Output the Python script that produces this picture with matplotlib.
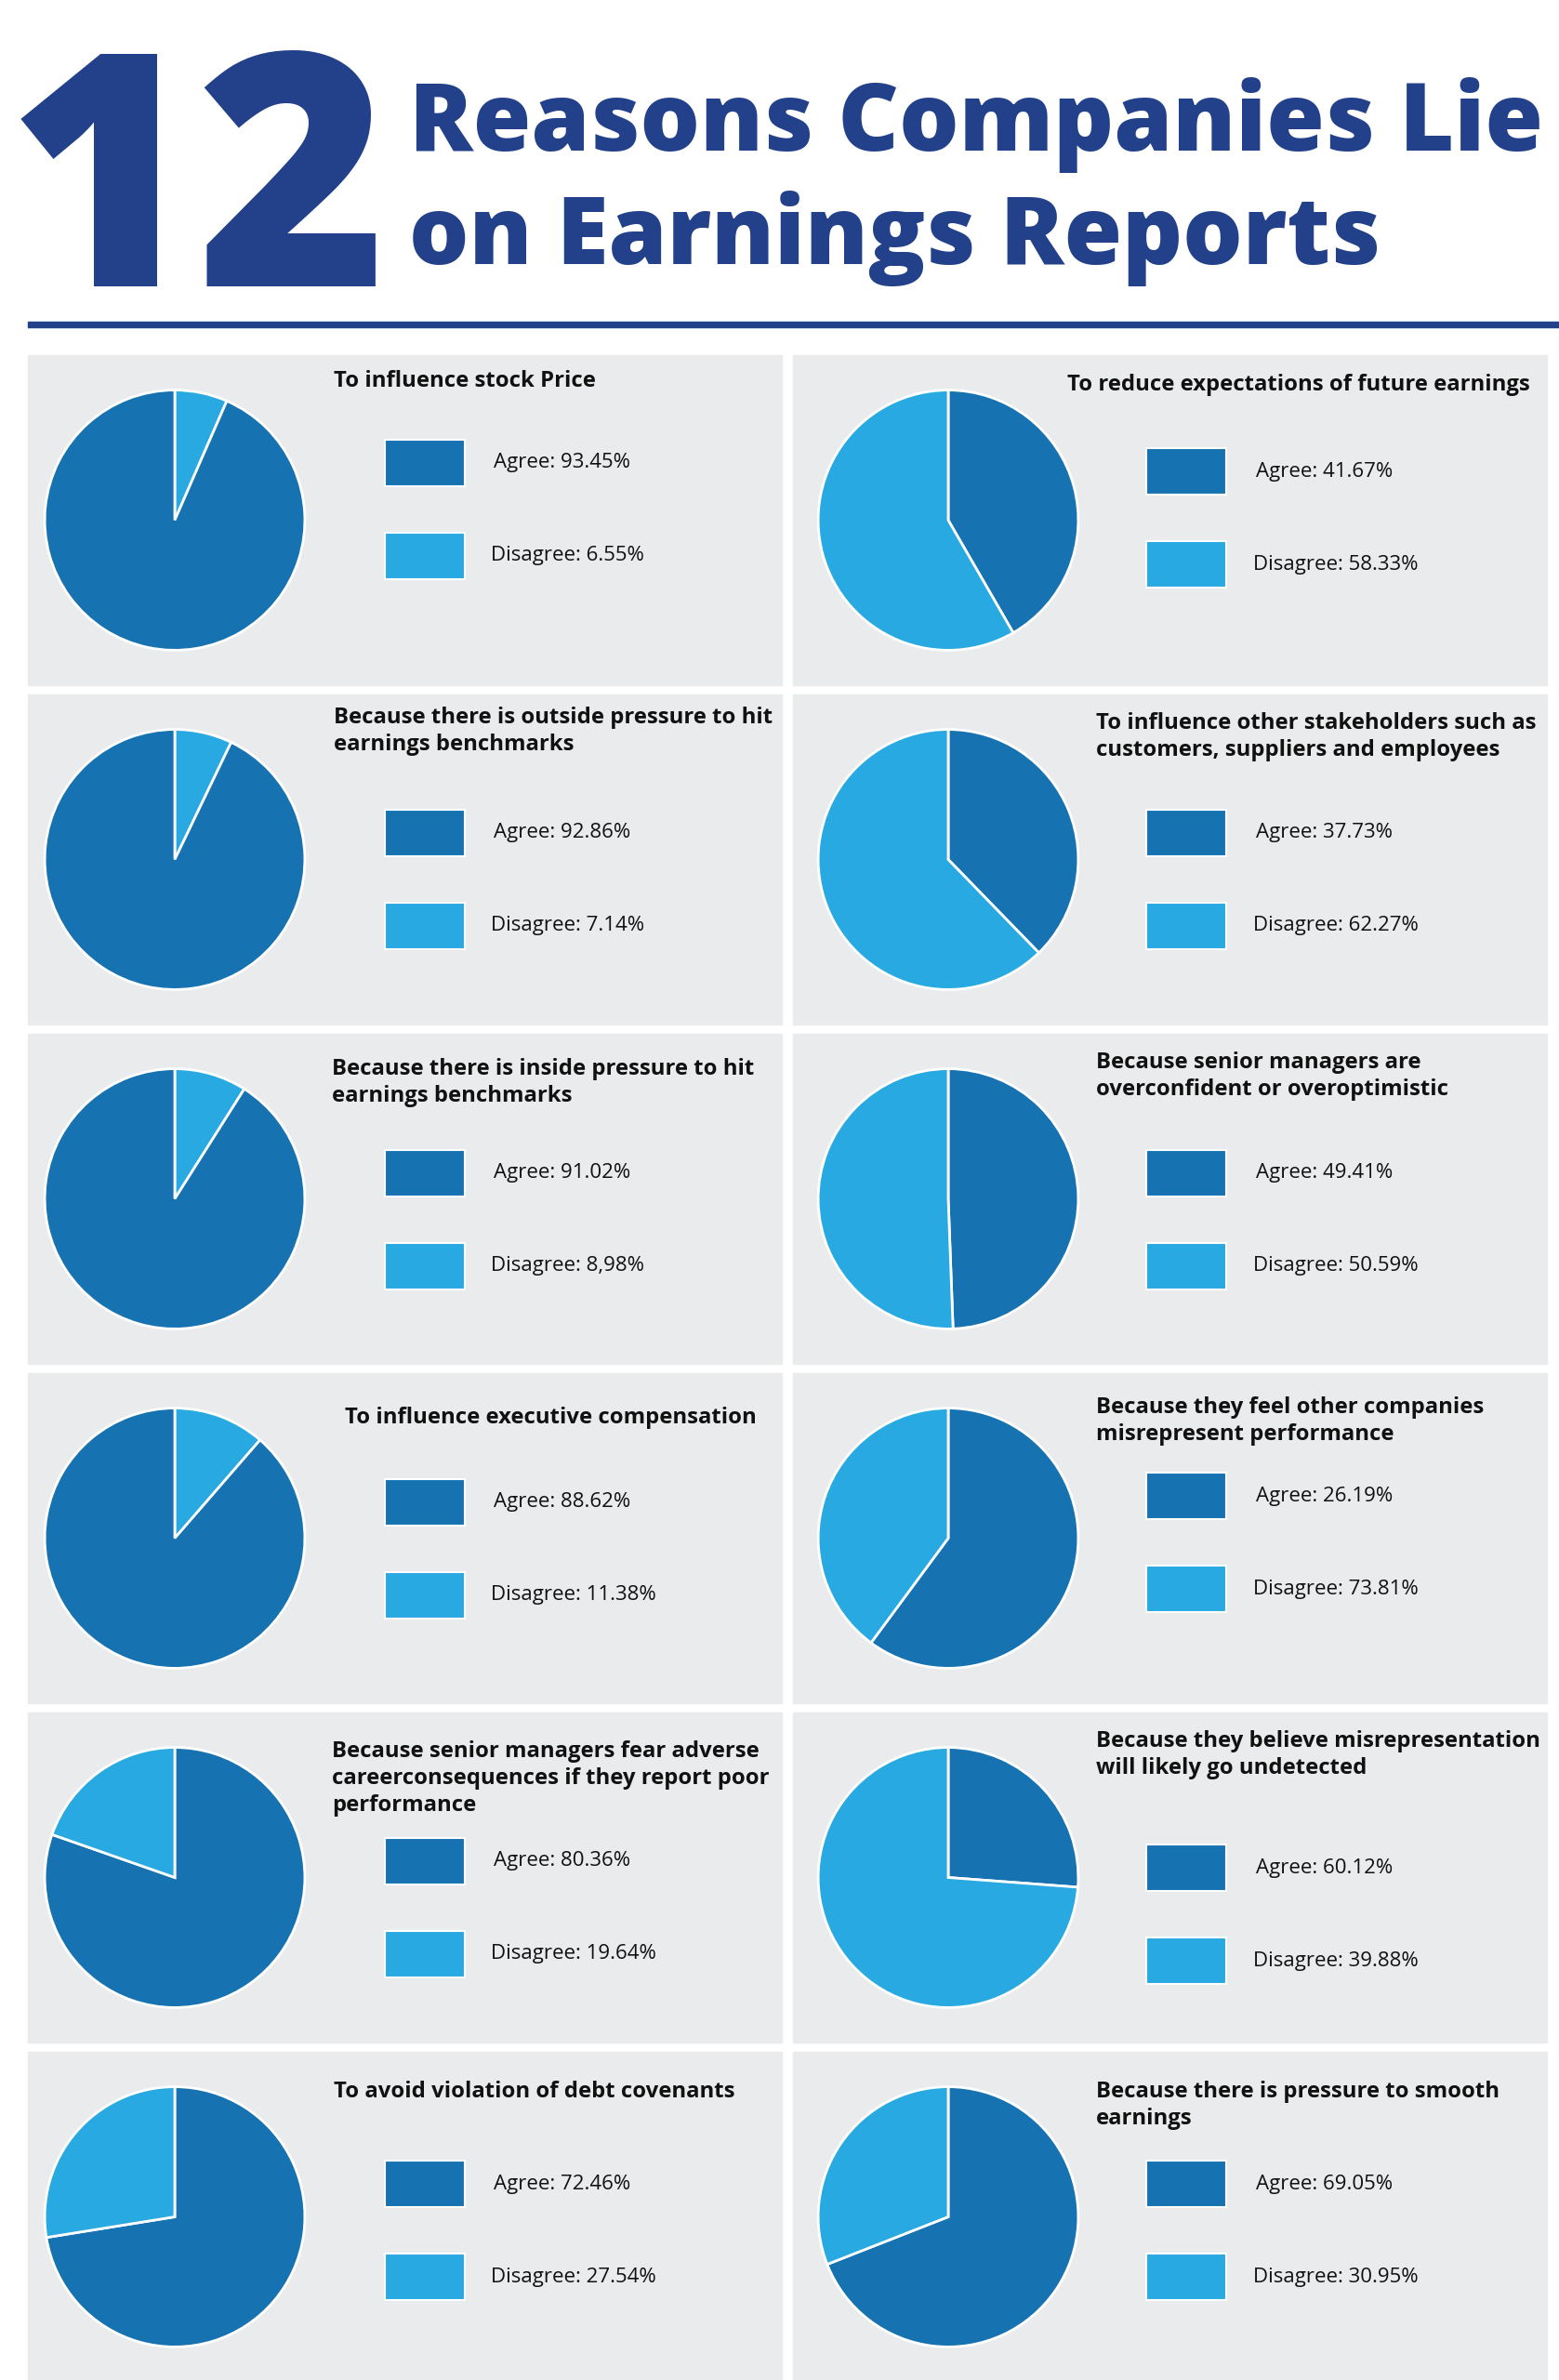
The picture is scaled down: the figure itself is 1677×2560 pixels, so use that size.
import matplotlib.pyplot as plt
from matplotlib.patches import Rectangle

# figure size in pixels
W, H = 1677, 2560

# panel titles, reading order (left, right, left, right ...)
titles = [
    ["To influence stock Price"],
    ["To reduce expectations of future earnings"],
    ["Because there is outside pressure to hit", "earnings benchmarks"],
    ["To influence other stakeholders such as", "customers, suppliers and employees"],
    ["Because there is inside pressure to hit", "earnings benchmarks"],
    ["Because senior managers are", "overconfident or overoptimistic"],
    ["To influence executive compensation"],
    ["Because they feel other companies", "misrepresent performance"],
    ["Because senior managers fear adverse", "careerconsequences if they report poor", "performance"],
    ["Because they believe misrepresentation", "will likely go undetected"],
    ["To avoid violation of debt covenants"],
    ["Because there is pressure to smooth", "earnings"],
]

agree_labels = ["93.45%", "41.67%", "92.86%", "37.73%", "91.02%", "49.41%",
                "88.62%", "26.19%", "80.36%", "60.12%", "72.46%", "69.05%"]
disagree_labels = ["6.55%", "58.33%", "7.14%", "62.27%", "8,98%", "50.59%",
                   "11.38%", "73.81%", "19.64%", "39.88%", "27.54%", "30.95%"]

# slice sizes as drawn (the source swaps the pies of panels 8 and 10)
pie_agree = [93.45, 41.67, 92.86, 37.73, 91.02, 49.41,
             88.62, 60.12, 80.36, 26.19, 72.46, 69.05]

# the first four left pies start with the light slice at 12 o'clock
light_first = [True, False, True, False, True, False,
               True, False, False, False, False, False]

# layout (pixels from panel top / left)
title_x = [359, 1148, 359, 1179, 357, 1179, 371, 1179, 357, 1179, 359, 1179]
title_y = [26, 30, 23, 29, 36, 29, 46, 35, 40, 29, 41, 41]
legend_y = [116, 125, 149, 149, 150, 150, 139, 132, 160, 167, 142, 142]

DARK = "#1672b1"
LIGHT = "#29a9e1"
PANEL = "#eaebed"
NAVY = "#22418a"

plt.rcParams['font.family'] = ['Open Sans', 'DejaVu Sans']

fig = plt.figure(figsize=(W / 100, H / 100), dpi=100)
fig.patch.set_facecolor("white")
bg = fig.add_axes([0, 0, 1, 1])
bg.set_xlim(0, W)
bg.set_ylim(H, 0)
bg.axis("off")

# header
bg.text(8, 308, "12", fontsize=252, fontweight="heavy", color=NAVY, va="baseline")
bg.text(440, 162, "Reasons Companies Lie", fontsize=73, fontweight="heavy", color=NAVY, va="baseline")
bg.text(440, 284, "on Earnings Reports", fontsize=73, fontweight="heavy", color=NAVY, va="baseline")
bg.add_patch(Rectangle((30, 346), W - 30, 6, color=NAVY))

panel_left = [30, 853]
panel_w = 811
panel_h = 355
row_top = 382
row_pitch = 365
pie_cx = [188, 1020]
radius = 140
sq_x = [414, 1233]
txt_x = [531, 1351]

for i in range(12):
    col = i % 2
    top = row_top + (i // 2) * row_pitch
    bg.add_patch(Rectangle((panel_left[col], top), panel_w, panel_h, color=PANEL, zorder=0))

    # title lines
    for k, line in enumerate(titles[i]):
        bg.text(title_x[i], top + title_y[i] + 8 + k * 29, line, fontsize=17.2,
                fontweight="bold", color="#111111", va="baseline")

    # legend
    for k, (lab, c) in enumerate([("Agree: " + agree_labels[i], DARK),
                                  ("Disagree: " + disagree_labels[i], LIGHT)]):
        cy = top + legend_y[i] + k * 100
        bg.add_patch(Rectangle((sq_x[col], cy - 25), 86, 50, facecolor=c,
                               edgecolor="white", linewidth=1.5, zorder=2))
        bg.text(txt_x[col] - (3 if k else 0), cy, lab, fontsize=16, color="#111111", va="center")

    # pie
    cy = top + panel_h / 2
    ax = fig.add_axes([(pie_cx[col] - radius - 2) / W, 1 - (cy + radius + 2) / H,
                       (2 * radius + 4) / W, (2 * radius + 4) / H])
    vals = [pie_agree[i], 100 - pie_agree[i]]
    cols = [DARK, LIGHT]
    if light_first[i]:
        vals, cols = vals[::-1], cols[::-1]
    ax.pie(vals, colors=cols, startangle=90, counterclock=False, radius=1,
           wedgeprops=dict(edgecolor="white", linewidth=2))
    ax.set_xlim(-1.015, 1.015)
    ax.set_ylim(-1.015, 1.015)
    ax.set_aspect("equal")
    ax.axis("off")

fig.savefig("out.png", dpi=100)
